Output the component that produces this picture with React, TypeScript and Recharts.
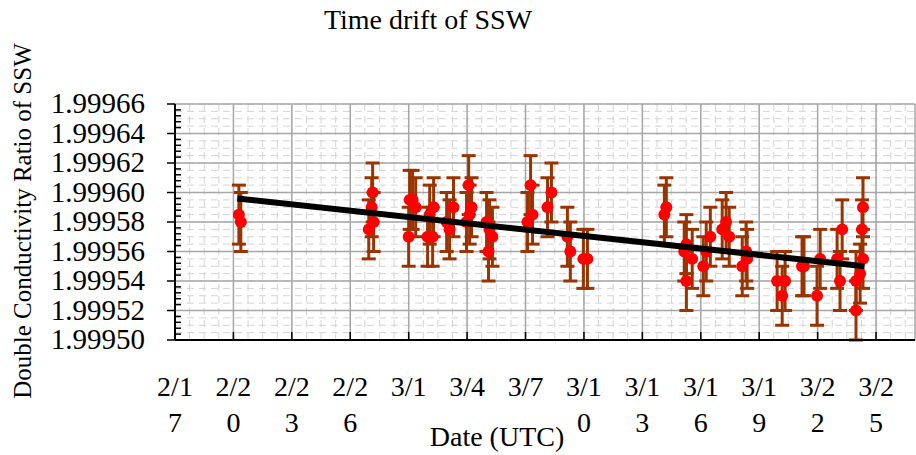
import React from "react";
import { ComposedChart, Scatter, ErrorBar, XAxis, YAxis, CartesianGrid } from "recharts";

// days counted from 2/17 (UTC)
const dayOffsets = [
  3.28, 3.38, 9.95, 10.1, 10.15, 10.2, 12.0, 12.05, 12.2, 12.36,
  12.97, 13.08, 13.23, 13.28, 13.95, 14.1, 14.3, 14.97, 15.08, 15.13,
  15.23, 16.0, 16.1, 16.15, 16.3, 18.1, 18.26, 18.36, 19.13, 19.33,
  20.15, 20.3, 20.97, 21.18, 25.13, 25.23, 26.15, 26.26, 26.26, 26.56,
  27.13, 27.28, 27.49, 28.1, 28.3, 28.46, 29.13, 29.33, 29.38, 30.92,
  31.18, 31.33, 32.2, 32.3, 32.97, 33.13, 34.0, 34.15, 34.26, 34.97,
  34.97, 35.18, 35.28, 35.33, 35.33,
];
const ratios = [
  1.999585, 1.99958, 1.999575, 1.99959, 1.9996, 1.99958, 1.99957, 1.999595, 1.999595, 1.99959,
  1.99957, 1.999585, 1.99957, 1.99959, 1.99958, 1.999575, 1.99959, 1.99958, 1.999605, 1.999585,
  1.99959, 1.99958, 1.99956, 1.999575, 1.99957, 1.99958, 1.999605, 1.999585, 1.99959, 1.9996,
  1.99957, 1.99956, 1.999555, 1.999555, 1.999585, 1.99959, 1.99956, 1.999565, 1.99954, 1.999555,
  1.99955, 1.99956, 1.99957, 1.999575, 1.99958, 1.99957, 1.99955, 1.99956, 1.999555, 1.99954,
  1.99953, 1.99954, 1.99955, 1.99955, 1.99953, 1.999555, 1.999555, 1.99954, 1.999575, 1.99952,
  1.99954, 1.999545, 1.999575, 1.999555, 1.99959,
];
const ratioError = 0.00002;

const trendDays = [3.2, 35.4];
const trendRatios = [1.999596, 1.99955];

const xTickDays = [0, 3, 6, 9, 12, 15, 18, 21, 24, 27, 30, 33, 36];
const xTickLabels = ["2/17", "2/20", "2/23", "2/26", "3/1", "3/4", "3/7", "3/10", "3/13", "3/16", "3/19", "3/22", "3/25"];
const yMajorTicks = [1.9995, 1.99952, 1.99954, 1.99956, 1.99958, 1.9996, 1.99962, 1.99964, 1.99966];

const FONT = '"Liberation Serif", "Times New Roman", serif';

const points = dayOffsets.map((d, i) => ({ day: d, ratio: ratios[i], err: ratioError }));
const trend = trendDays.map((d, i) => ({ day: d, ratio: trendRatios[i] }));

// axis styling: minor ticks and minor grid
const yMinorTicks = Array.from({ length: 41 }, (_, i) => +(1.9995 + i * 0.000004).toFixed(7));
const yMinorGrid = Array.from({ length: 33 }, (_, i) => +(1.9995 + i * 0.000005).toFixed(7));
const xMinorGrid = Array.from({ length: 51 }, (_, i) => i * 0.75);

const isMajor = (v: number) => yMajorTicks.some((t) => Math.abs(t - v) < 1e-9);

const YTick = (props: any) => {
  const { x, y, payload } = props;
  const v = payload.value;
  if (isMajor(v)) {
    return (
      <g>
        <line x1={x - 8} x2={x} y1={y} y2={y} stroke="#000" strokeWidth={1.5} />
        <text x={x - 30} y={y} dy={9} textAnchor="end" fontSize={29} fontFamily={FONT} fill="#000">
          {v.toFixed(5)}
        </text>
      </g>
    );
  }
  return <line x1={x} x2={x + 6} y1={y} y2={y} stroke="#000" strokeWidth={1.5} />;
};

const XTick = (props: any) => {
  const { x, y, payload } = props;
  const label = xTickLabels[xTickDays.indexOf(payload.value)] ?? "";
  const l1 = label.slice(0, 3);
  const l2 = label.slice(3);
  return (
    <g>
      <line x1={x} x2={x} y1={y} y2={y - 8} stroke="#000" strokeWidth={1.5} />
      <text x={x} y={y + 56} textAnchor="middle" fontSize={28} fontFamily={FONT} fill="#000">{l1}</text>
      {l2 && (
        <text x={x} y={y + 92} textAnchor="middle" fontSize={28} fontFamily={FONT} fill="#000">{l2}</text>
      )}
    </g>
  );
};

const App: React.FC = () => {
  return (
    <div style={{ position: "absolute", left: 0, top: 0, width: 916, height: 455, background: "#fff" }}>
      <ComposedChart
        width={916}
        height={455}
        margin={{ top: 104, right: 1, bottom: 55, left: 0 }}
      >
        <CartesianGrid
          horizontalValues={yMinorGrid}
          verticalValues={xMinorGrid}
          stroke="#d4d4d4"
          strokeDasharray="7 5"
        />
        <CartesianGrid
          horizontalValues={yMajorTicks}
          verticalValues={[...xTickDays, 38]}
          stroke="#a6a6a6"
          strokeWidth={1.5}
        />
        <XAxis
          type="number"
          dataKey="day"
          domain={[0, 38]}
          allowDataOverflow
          ticks={xTickDays}
          interval={0}
          height={60}
          tickSize={0}
          tickMargin={0}
          tickLine={false}
          tick={<XTick />}
          axisLine={{ stroke: "#000", strokeWidth: 2 }}
        />
        <YAxis
          type="number"
          dataKey="ratio"
          domain={[1.9995, 1.99966]}
          allowDataOverflow
          ticks={yMinorTicks}
          interval={0}
          width={175}
          tickSize={0}
          tickMargin={0}
          tickLine={false}
          tick={<YTick />}
          axisLine={{ stroke: "#000", strokeWidth: 2 }}
        />
        <Scatter
          data={points}
          dataKey="ratio"
          isAnimationActive={false}
          shape={(p: any) => <circle cx={p.cx} cy={p.cy} r={6} fill="#ff0000" />}
        >
          <ErrorBar dataKey="err" direction="y" width={7} stroke="#993300" strokeWidth={3} />
        </Scatter>
        <Scatter
          data={trend}
          dataKey="ratio"
          isAnimationActive={false}
          line={{ stroke: "#000", strokeWidth: 6 }}
          shape={() => <g />}
        />
      </ComposedChart>
      <svg width={916} height={455} style={{ position: "absolute", left: 0, top: 0, pointerEvents: "none" }}>
        <text x={428} y={29} textAnchor="middle" fontSize={28} fontFamily={FONT} fill="#000">
          Time drift of SSW
        </text>
        <text x={497} y={446} textAnchor="middle" fontSize={28} fontFamily={FONT} fill="#000">
          Date (UTC)
        </text>
        <text
          x={31}
          y={221}
          transform="rotate(-90 31 221)"
          textAnchor="middle"
          fontSize={25}
          fontFamily={FONT}
          fill="#000"
        >
          Double Conductivity Ratio of SSW
        </text>
      </svg>
    </div>
  );
};

export default App;
